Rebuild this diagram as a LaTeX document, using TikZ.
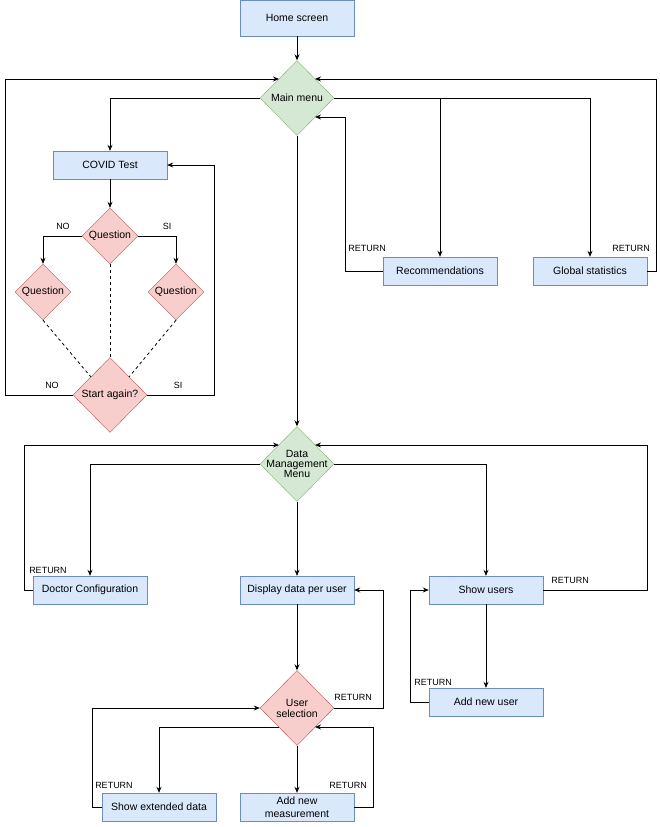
\documentclass[tikz,border=0pt]{standalone}
\usepackage{fontspec}
\setmainfont{Liberation Sans}
\usetikzlibrary{shapes.geometric,arrows.meta}
\definecolor{bfill}{HTML}{DAE8FC}\definecolor{bdraw}{HTML}{6C8EBF}
\definecolor{gfill}{HTML}{D5E8D4}\definecolor{gdraw}{HTML}{82B366}
\definecolor{rfill}{HTML}{F8CECC}\definecolor{rdraw}{HTML}{B85450}
\begin{document}
\begin{tikzpicture}[x=1pt,y=-1pt,font=\fontsize{10.5}{11}\selectfont,
 box/.style={draw=bdraw,fill=bfill,minimum width=114,minimum height=28,inner sep=1,align=center,font=\fontsize{10.5}{11.5}\selectfont},
 dia/.style={diamond,draw=#1draw,fill=#1fill,inner sep=0,minimum width=74,minimum height=75},
 sdia/.style={diamond,draw=rdraw,fill=rfill,inner sep=0,minimum width=56,minimum height=56},
 arr/.style={-{Stealth[length=6,width=5]},line width=0.8},
 ln/.style={line width=0.8},
 lab/.style={font=\fontsize{9}{10}\selectfont,inner sep=0}]
\useasboundingbox (0,0) rectangle (660,827);
\node[box,minimum height=36] (hs) at (297,18) {Home screen};
\node[dia=g,label=center:{Main menu}] (mm) at (297,98) {};
\node[box] (ct) at (110,165) {COVID Test};
\node[box] (rec) at (440,271) {Recommendations};
\node[box] (gs) at (590,271) {Global statistics};
\node[sdia,label=center:{Question}] (q1) at (110,236) {};
\node[sdia,label=center:{Question}] (ql) at (43,292) {};
\node[sdia,label=center:{Question}] (qr) at (176,292) {};
\node[dia=r,label=center:{Start again?}] (sa) at (110,395) {};
\node[dia=g,label=center:{\parbox{70pt}{\centering Data\\[-1pt]Management\\[-1pt]Menu}}] (dm) at (297,464) {};
\node[box] (dc) at (90,590) {Doctor Configuration};
\node[box] (dd) at (297,590) {Display data per user};
\node[box] (su) at (486,590) {Show users};
\node[dia=r,label=center:{\parbox{60pt}{\centering User\\selection}}] (us) at (297,708) {};
\node[box] (an) at (486,702) {Add new user};
\node[box] (se) at (159,807) {Show extended data};
\node[box,font=\fontsize{10.5}{13}\selectfont] (am) at (297,807) {Add new\\measurement};
% coordinates
\coordinate (mmL) at (279,79); \coordinate (mmR) at (315,79); \coordinate (mmR2) at (315,117);
\coordinate (dmL) at (279,445); \coordinate (dmR) at (315,445);
\coordinate (usR) at (315,727);
% top
\draw[arr] (hs) -- (mm);
\draw[arr] (mm.west) -| (ct.north);
\draw[ln] (mm.east) -- (590,98);
\draw[arr] (440,98) -- (rec.north);
\draw[arr] (590,98) -- (gs.north);
\draw[arr] (rec.west) -| (345,117) -- (mmR2);
\draw[arr] (gs.east) -| (656,79) -- (mmR);
\draw[arr] (sa.west) -| (5,79) -- (mmL);
\draw[arr] (sa.east) -| (214,165) -- (ct.east);
\draw[arr] (ct) -- (q1);
\draw[arr] (q1.west) -| (ql.north);
\draw[arr] (q1.east) -| (qr.north);
\draw[ln,dashed] (ql.south) -- (91,377);
\draw[ln,dashed] (q1.south) -- (sa.north);
\draw[ln,dashed] (qr.south) -- (129,377);
\node[lab] at (63,226) {NO};
\node[lab] at (167,226) {SI};
\node[lab] at (52,385) {NO};
\node[lab] at (178,385) {SI};
\node[lab] at (367,248) {RETURN};
\node[lab] at (631,248) {RETURN};
\draw[arr] (mm) -- (dm);
% bottom
\draw[arr] (dm.west) -| (dc.north);
\draw[arr] (dm.east) -| (su.north);
\draw[arr] (dm) -- (dd);
\draw[arr] (dc.west) -| (24,445) -- (dmL);
\draw[arr] (su.east) -| (647,445) -- (dmR);
\draw[arr] (dd) -- (us);
\draw[arr] (us.east) -| (383,590) -- (dd.east);
\draw[arr] (su) -- (an);
\draw[arr] (an.west) -| (410,590) -- (su.west);
\draw[arr] (279,727) -| (se.north);
\draw[arr] (us) -- (am);
\draw[arr] (se.west) -| (92,708) -- (us.west);
\draw[arr] (am.east) -| (373,727) -- (usR);
\node[lab] at (48,570) {RETURN};
\node[lab] at (570,580) {RETURN};
\node[lab] at (353,697) {RETURN};
\node[lab] at (433,682) {RETURN};
\node[lab] at (114,785) {RETURN};
\node[lab] at (348,785) {RETURN};
\end{tikzpicture}
\end{document}
